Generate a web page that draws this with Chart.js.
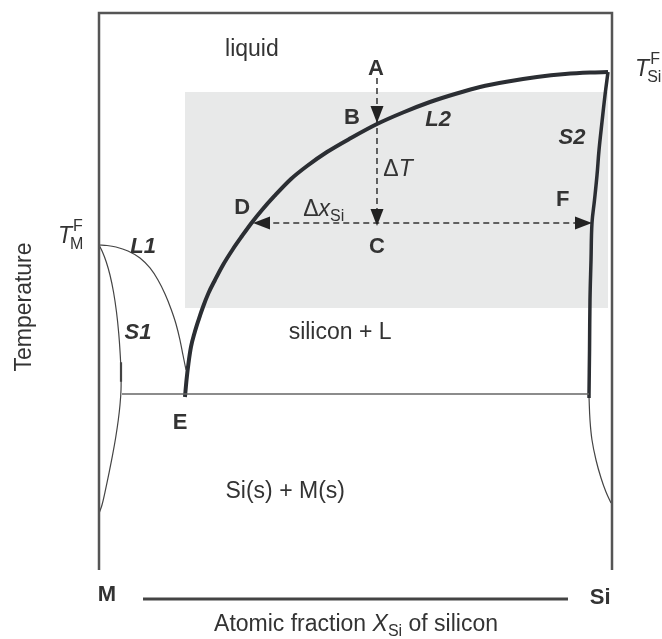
<!DOCTYPE html>
<html>
<head>
<meta charset="utf-8">
<script src="https://cdn.jsdelivr.net/npm/chart.js@4.4.1/dist/chart.umd.min.js"></script>
<style>
  html, body { margin: 0; padding: 0; background: #fff; overflow: hidden; }
  #wrap { width: 662px; height: 639px; }
</style>
</head>
<body>
<div id="wrap"><canvas id="phase" width="662" height="639"></canvas></div>
<script>
// composition axis: 0 = pure M, 1 = pure Si; temperature in arbitrary units 0..100
const eutecticT = 31.6;
const eutecticX = [0.0448, 0.9552];

// L2 : liquidus on the silicon side (E -> melting point of Si)
const liqSiX = [0.1676, 0.1706, 0.1745, 0.1793, 0.1862, 0.1940, 0.2027, 0.2135, 0.2261, 0.2417, 0.2612, 0.2788,
  0.2973, 0.3177, 0.3421, 0.3743, 0.4055, 0.4444, 0.4912, 0.5419, 0.5926, 0.6452, 0.6940, 0.7427, 0.7973,
  0.8538, 0.9084, 0.9571, 0.9922];
const liqSiT = [31.06, 34.11, 37.16, 40.04, 42.55, 44.88, 47.22, 49.73, 52.06, 54.76, 57.63, 59.96,
  62.30, 64.63, 67.15, 70.20, 72.53, 75.04, 77.56, 80.07, 82.14, 84.02, 85.46, 86.71, 87.70,
  88.51, 89.05, 89.32, 89.41];

// S2 : solidus of silicon above the eutectic, then the solvus below it
const solSiX = [0.9922, 0.9864, 0.9805, 0.9747, 0.9708, 0.9659, 0.9610, 0.9591, 0.9571, 0.9562, 0.9552, 0.9552];
const solSiT = [89.41, 85.28, 80.43, 75.40, 70.92, 66.43, 62.30, 55.66, 48.47, 39.50, 31.60, 30.88];
const solvusSiX = [0.9552, 0.9571, 0.9610, 0.9688, 0.9786, 0.9883, 0.9981];
const solvusSiT = [31.06, 26.93, 23.34, 19.75, 16.52, 14.00, 12.03];

// L1 / S1 : liquidus and solidus on the metal side
const liqMX = [0.0, 0.0156, 0.0331, 0.0565, 0.0799, 0.0994, 0.1150, 0.1287, 0.1404, 0.1501, 0.1579, 0.1637, 0.1696];
const liqMT = [58.35, 58.26, 57.99, 57.27, 56.01, 54.22, 52.06, 49.55, 46.86, 44.17, 41.29, 38.60, 35.91];
const solMX = [0.0, 0.0068, 0.0142, 0.0214, 0.0283, 0.0341, 0.0384, 0.0413, 0.0429, 0.0429,
  0.0409, 0.0376, 0.0327, 0.0265, 0.0195, 0.0117, 0.0058, 0.0010];
const solMT = [58.35, 57.09, 55.30, 52.96, 49.91, 46.32, 42.55, 38.78, 35.55, 32.32,
  29.62, 26.93, 23.88, 20.65, 17.41, 14.00, 11.67, 10.41];

// shaded process window
const windowX = [0.1676, 0.9922];
const windowT = [47.04, 85.82];

// points A, B, C on the cooling path, D and F on the tie line
const pathX = 0.5419;
const pointT = { A: 88.33, B: 80.25, C: 61.76 };
const tieT = 62.30;
const tieX = [0.3002, 0.961];

const pts = (xs, ts) => xs.map((x, i) => ({ x: x, y: ts[i] }));

const INK = "#2b2e33";
const TXT = "#333";
const FAM = '"Liberation Sans", Arial, sans-serif';

function line(data, width, color, extra) {
  return Object.assign({
    data: data,
    showLine: true,
    borderColor: color,
    borderWidth: width,
    pointRadius: 0,
    fill: false,
    tension: 0,
  }, extra || {});
}

const datasets = [
  // gray box
  line(pts(windowX, [windowT[1], windowT[1]]), 0, "rgba(0,0,0,0)", {
    fill: { value: windowT[0] },
    backgroundColor: "#e8e9e9",
    order: 10,
  }),
  // frame: left wall (M), top, right wall (Si)
  line([{ x: 0, y: 0 }, { x: 0, y: 100 }, { x: 1, y: 100 }, { x: 1, y: 0 }], 2.5, "#555", { clip: false }),
  // eutectic isotherm
  line(pts(eutecticX, [eutecticT, eutecticT]), 1.5, "#666"),
  // L1 and S1
  line(pts(liqMX, liqMT), 1.2, "#444", { cubicInterpolationMode: "monotone" }),
  line(pts(solMX, solMT), 1.2, "#444", { tension: 0.4 }),
  line([{ x: 0.0429, y: 37.3 }, { x: 0.0429, y: 33.8 }], 2.2, "#444"),
  // L2 and S2
  line(pts(liqSiX, liqSiT), 4, INK, { cubicInterpolationMode: "monotone" }),
  line(pts(solSiX, solSiT), 3.5, INK, { tension: 0.4 }),
  line(pts(solvusSiX, solvusSiT), 1.2, "#444", { tension: 0.4 }),
  // cooling path A -> C and tie line D -> F
  line([{ x: pathX, y: pointT.A }, { x: pathX, y: pointT.C + 1.5 }], 1.5, "#333", { borderDash: [6, 4] }),
  line([{ x: tieX[0] + 0.02, y: tieT }, { x: tieX[1] - 0.02, y: tieT }], 1.5, "#333", { borderDash: [6, 4] }),
  // composition axis line below the plot
  line([{ x: 0.0858, y: -5.21 }, { x: 0.9142, y: -5.21 }], 3, "#444", { clip: false }),
];

// text runs: [text, font, baseline shift]
function runs(ctx, x, y, parts, align) {
  let w = 0;
  parts.forEach((p) => { ctx.font = p[1]; w += ctx.measureText(p[0]).width; });
  let cx = align === "left" ? x : x - w / 2;
  parts.forEach((p) => {
    ctx.font = p[1];
    ctx.fillText(p[0], cx, y + (p[2] || 0));
    cx += ctx.measureText(p[0]).width;
  });
}

function arrow(ctx, x, y, dir) {
  const len = 17, half = 6.5;
  ctx.save();
  ctx.translate(x, y);
  ctx.rotate({ down: 0, up: Math.PI, left: Math.PI / 2, right: -Math.PI / 2 }[dir]);
  ctx.beginPath();
  ctx.moveTo(0, 0);
  ctx.lineTo(-half, -len);
  ctx.lineTo(half, -len);
  ctx.closePath();
  ctx.fillStyle = "#222";
  ctx.fill();
  ctx.restore();
}

const labelPlugin = {
  id: "phaseLabels",
  afterDatasetsDraw(chart) {
    const ctx = chart.ctx;
    const X = (v) => chart.scales.x.getPixelForValue(v);
    const Y = (v) => chart.scales.y.getPixelForValue(v);
    const reg = "23px " + FAM;
    const bold = "bold 22px " + FAM;
    const bi = "italic bold 22px " + FAM;
    const it = "italic 23px " + FAM;
    const sub = "16px " + FAM;

    arrow(ctx, X(pathX), Y(pointT.B), "down");
    arrow(ctx, X(pathX), Y(pointT.C), "down");
    arrow(ctx, X(tieX[0]), Y(tieT), "left");
    arrow(ctx, X(tieX[1]), Y(tieT), "right");

    ctx.save();
    ctx.fillStyle = TXT;
    ctx.textAlign = "center";
    ctx.textBaseline = "middle";
    const simple = [
      ["liquid", 0.298, 93.36, reg],
      ["A", 0.540, 89.95, bold],
      ["B", 0.493, 81.15, bold],
      ["L2", 0.661, 80.79, bi],
      ["S2", 0.922, 77.56, bi],
      ["D", 0.279, 64.99, bold],
      ["F", 0.904, 66.43, bold],
      ["C", 0.542, 57.99, bold],
      ["L1", 0.086, 57.99, bi],
      ["S1", 0.076, 42.55, bi],
      ["silicon + L", 0.470, 42.55, reg],
      ["E", 0.158, 26.39, bold],
      ["Si(s) + M(s)", 0.363, 14.0, reg],
      ["M", 0.0156, -4.49, bold],
      ["Si", 0.977, -5.03, bold],
    ];
    simple.forEach((s) => { ctx.font = s[3]; ctx.fillText(s[0], X(s[1]), Y(s[2])); });

    ctx.textAlign = "left";
    ctx.textBaseline = "alphabetic";
    runs(ctx, X(0.583), Y(72.17) + 8, [["\u0394", reg], ["T", it]], "center");
    runs(ctx, X(0.398), Y(64.99) + 8, [["\u0394", reg], ["x", it], ["Si", sub, 5]], "left");
    runs(ctx, X(0.501), Y(-9.52) + 8,
      [["Atomic fraction ", reg], ["X", it], ["Si", sub, 5], [" of silicon", reg]], "center");

    // melting points T_M^F and T_Si^F
    const melt = (x0, yb, subTxt) => {
      ctx.font = "italic 23px " + FAM;
      ctx.fillText("T", x0, yb);
      const w = ctx.measureText("T").width;
      ctx.font = sub;
      ctx.fillText("F", x0 + w + 1, yb - 12);
      ctx.fillText(subTxt, x0 + w - 2, yb + 6);
    };
    melt(X(-0.080), Y(58.71), "M");
    melt(X(1.045), Y(88.69), "Si");

    // vertical axis title
    ctx.translate(X(-0.144), Y(47.22));
    ctx.rotate(-Math.PI / 2);
    ctx.textAlign = "center";
    ctx.textBaseline = "middle";
    ctx.font = reg;
    ctx.fillText("Temperature", 0, 0);
    ctx.restore();
  },
};

new Chart(document.getElementById("phase"), {
  type: "scatter",
  data: { datasets: datasets },
  options: {
    responsive: false,
    animation: false,
    layout: { padding: { left: 99, right: 50, top: 13, bottom: 69 } },
    scales: {
      x: { type: "linear", min: 0, max: 1, display: false },
      y: { type: "linear", min: 0, max: 100, display: false },
    },
    plugins: { legend: { display: false }, tooltip: { enabled: false } },
  },
  plugins: [labelPlugin],
});
</script>
</body>
</html>
